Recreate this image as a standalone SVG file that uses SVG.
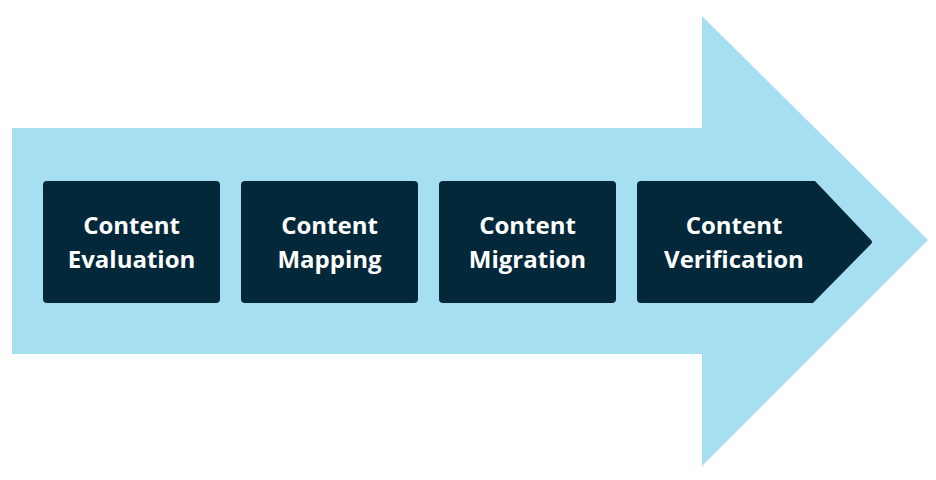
<svg xmlns="http://www.w3.org/2000/svg" width="936" height="480" viewBox="0 0 936 480">
<style>
.bg{fill:#a6dff2}
.box{fill:#032839}
.t{font-family:"Open Sans","Liberation Sans",sans-serif;font-weight:700;font-size:24px;fill:#ffffff;text-anchor:middle}
</style>
<rect width="936" height="480" fill="#ffffff"/>
<g id="big-arrow">
<path class="bg" d="M12,128 H702 V16 L928,240 L702,466 V354 H12 Z"/>
</g>
<g id="connectors"></g>
<g id="step1">
<rect class="box" x="43" y="181" width="177" height="122" rx="4"/>
<text class="t" x="131.5" y="234">Content</text>
<text class="t" x="131.5" y="268">Evaluation</text>
</g>
<g id="step2">
<rect class="box" x="241" y="181" width="177" height="122" rx="4"/>
<text class="t" x="329.5" y="234">Content</text>
<text class="t" x="329.5" y="268">Mapping</text>
</g>
<g id="step3">
<rect class="box" x="439" y="181" width="177" height="122" rx="4"/>
<text class="t" x="527.5" y="234">Content</text>
<text class="t" x="527.5" y="268">Migration</text>
</g>
<g id="step4">
<path class="box" d="M641,181 H815 L871,240 Q873,242 871,244 L813,303 H641 Q637,303 637,299 V185 Q637,181 641,181 Z"/>
<text class="t" x="734" y="234">Content</text>
<text class="t" x="734" y="268">Verification</text>
</g>
</svg>
